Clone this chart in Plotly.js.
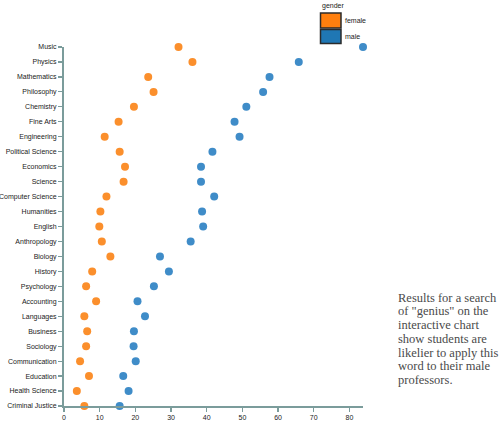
<!DOCTYPE html>
<html>
<head>
<meta charset="utf-8">
<script src="https://cdn.plot.ly/plotly-3.0.1.min.js"></script>
<style>
html,body{margin:0;padding:0;background:#fff;}
#chart{width:500px;height:423px;}
</style>
</head>
<body>
<div id="chart"></div>
<script>
var subjects = ["Music","Physics","Mathematics","Philosophy","Chemistry","Fine Arts","Engineering","Political Science","Economics","Science","Computer Science","Humanities","English","Anthropology","Biology","History","Psychology","Accounting","Languages","Business","Sociology","Communication","Education","Health Science","Criminal Justice"];
var femaleValues = [32.1,36.0,23.6,25.1,19.6,15.3,11.4,15.6,17.1,16.7,11.9,10.2,9.9,10.6,13.0,7.9,6.2,9.0,5.7,6.5,6.2,4.5,7.0,3.6,5.7];
var maleValues = [83.8,65.8,57.6,55.8,51.1,47.8,49.2,41.6,38.4,38.4,42.1,38.7,39.0,35.5,26.9,29.4,25.2,20.6,22.7,19.6,19.5,20.1,16.6,18.1,15.6];
var xTicks = [0,10,20,30,40,50,60,70,80];
var legendTitle = "gender";
var legendLabels = ["female","male"];
var noteLines = ["Results for a search","of \"genius\" on the","interactive chart","show students are","likelier to apply this","word to their male","professors."];

// plot area in pixels
var L = 64, R = 363, T = 47, B = 405.7;
function px(x){ return (x - L) / (R - L); }
function py(y){ return (B - y) / (B - T); }

var axisColor = '#7b9c9b';
var textColor = '#222';
var traces = [
  {type:'scatter', mode:'markers', name:legendLabels[0], x:femaleValues, y:subjects,
   marker:{color:'#fb8f2c', size:8, line:{width:0}}, cliponaxis:false, hoverinfo:'x+y'},
  {type:'scatter', mode:'markers', name:legendLabels[1], x:maleValues, y:subjects,
   marker:{color:'#3f8cc8', size:8, line:{width:0}}, cliponaxis:false, hoverinfo:'x+y'}
];

var shapes = [
  {type:'rect', xref:'paper', yref:'paper', x0:px(320.5), x1:px(341), y0:py(13), y1:py(28),
   fillcolor:'#ff7f0e', line:{color:'#2b2b2b', width:1.5}},
  {type:'rect', xref:'paper', yref:'paper', x0:px(320.5), x1:px(341), y0:py(29.5), y1:py(43.5),
   fillcolor:'#1f77b4', line:{color:'#2b2b2b', width:1.5}}
];

var annotations = [
  {xref:'paper', yref:'paper', x:px(319.5), y:py(6.5), text:legendTitle, showarrow:false,
   xanchor:'left', yanchor:'middle', font:{family:'Liberation Sans, Arial, sans-serif', size:7, color:textColor}},
  {xref:'paper', yref:'paper', x:px(343), y:py(21), text:legendLabels[0], showarrow:false,
   xanchor:'left', yanchor:'middle', font:{family:'Liberation Sans, Arial, sans-serif', size:7, color:textColor}},
  {xref:'paper', yref:'paper', x:px(343), y:py(37), text:legendLabels[1], showarrow:false,
   xanchor:'left', yanchor:'middle', font:{family:'Liberation Sans, Arial, sans-serif', size:7, color:textColor}}
];
noteLines.forEach(function(t, i){
  annotations.push({xref:'paper', yref:'paper', x:px(396), y:py(297.5 + i*13.7), text:t, showarrow:false,
    xanchor:'left', yanchor:'middle', font:{family:'Liberation Serif, Times New Roman, serif', size:12.5, color:'#4a4a4a'}});
});

var layout = {
  width:500, height:423,
  margin:{l:L, r:500-R, t:T, b:423-B, pad:0},
  paper_bgcolor:'#fff', plot_bgcolor:'#fff',
  showlegend:false,
  font:{family:'Liberation Sans, Arial, sans-serif', size:7, color:textColor},
  xaxis:{range:[0,83.8], tickvals:xTicks, ticktext:xTicks.map(String), showgrid:false, zeroline:false,
    showline:true, linecolor:axisColor, linewidth:2, ticks:'outside', ticklen:4, tickwidth:1.2, tickcolor:axisColor,
    tickfont:{size:7, color:textColor}, fixedrange:true},
  yaxis:{type:'category', categoryorder:'array', categoryarray:subjects, range:[24,0], showgrid:false, zeroline:false,
    showline:true, linecolor:axisColor, linewidth:2, ticks:'outside', ticklen:4, tickwidth:1.2, tickcolor:axisColor,
    tickfont:{size:7, color:textColor}, ticklabelstandoff:0, fixedrange:true},
  shapes:shapes,
  annotations:annotations
};
Plotly.newPlot('chart', traces, layout, {displayModeBar:false, staticPlot:true});
</script>
</body>
</html>
